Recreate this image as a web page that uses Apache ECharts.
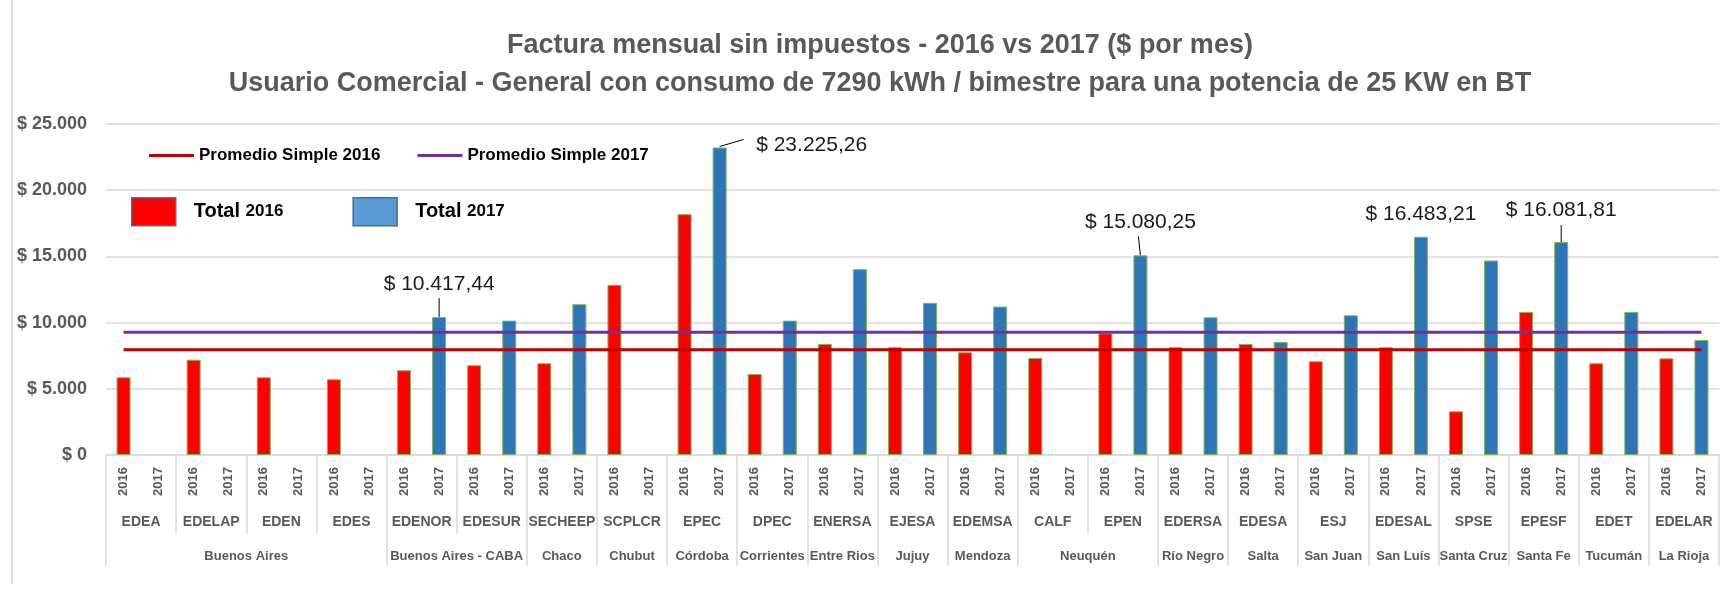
<!DOCTYPE html>
<html>
<head>
<meta charset="utf-8">
<script src="https://cdn.jsdelivr.net/npm/echarts@6/dist/echarts.min.js"></script>
<style>
  html, body { margin: 0; padding: 0; background: #fff; }
  #chart { width: 1720px; height: 589px; }
</style>
</head>
<body>
<div id="chart"></div>
<script>
// distribuidoras, en el orden del grafico
const companies = ['EDEA', 'EDELAP', 'EDEN', 'EDES', 'EDENOR', 'EDESUR', 'SECHEEP', 'SCPLCR', 'EPEC', 'DPEC', 'ENERSA', 'EJESA',
  'EDEMSA', 'CALF', 'EPEN', 'EDERSA', 'EDESA', 'ESJ', 'EDESAL', 'SPSE', 'EPESF', 'EDET', 'EDELAR']
const provinces = ['Buenos Aires', 'Buenos Aires - CABA', 'Chaco', 'Chubut', 'Córdoba', 'Corrientes', 'Entre Rios', 'Jujuy',
  'Mendoza', 'Neuquén', 'Río Negro', 'Salta', 'San Juan', 'San Luís', 'Santa Cruz', 'Santa Fe', 'Tucumán', 'La Rioja']
// cantidad de distribuidoras por provincia
const provinceCompanies = [4, 2, 1, 1, 1, 1, 1, 1, 1, 2, 1, 1, 1, 1, 1, 1, 1, 1]
const years = ['2016', '2017']

const total2016 = [5870, 7200, 5870, 5720, 6400, 6780, 6930, 12850, 18190, 6120, 8390, 8140,
  7760, 7330, 9190, 8140, 8390, 7080, 8140, 3300, 10810, 6930, 7300]
const total2017 = [null, null, null, null, 10417.44, 10150, 11390, null, 23225.26, 10150, 14030, 11490,
  11210, null, 15080.25, 10400, 8540, 10550, 16483.21, 14690, 16081.81, 10810, 8690]

const promedio2016 = 7950
const promedio2017 = 9280

const yTicks = [0, 5000, 10000, 15000, 20000, 25000]

// barras 2017 con etiqueta; line = linea guia (px desde el tope de la barra)
const callouts = {
  EDENOR: { distance: 22, line: [0, 0, 0, -19] },
  EPEC: { distance: 0, offset: [92, 8], line: [0, -1, 24, -8] },
  EPEN: { distance: 23, line: [0, 0, -2, -19] },
  EDESAL: { distance: 12 },
  EPESF: { distance: 21, line: [0, 0, 0, -17] }
}

const FONT = '"Liberation Sans", Arial, sans-serif'
const GRAY = '#595959'

const money = (v, dec) => {
  const [i, d] = v.toFixed(dec).split('.')
  return '$ ' + i.replace(/\B(?=(\d{3})+(?!\d))/g, '.') + (d ? ',' + d : '')
}

const cats = []
const bars2016 = []
const bars2017 = []
const leaders = []
companies.forEach((c, i) => {
  years.forEach(y => cats.push(c + '|' + y))
  bars2016.push(total2016[i], '-')
  const v = total2017[i]
  const co = callouts[c]
  if (v == null) {
    bars2017.push('-', '-')
  } else if (co) {
    bars2017.push('-', {
      value: v,
      label: {
        show: true,
        position: 'top',
        distance: co.distance,
        offset: co.offset || [0, 0],
        formatter: money(v, 2),
        fontSize: 21,
        color: '#1a1a1a',
        fontFamily: FONT
      }
    })
    if (co.line) leaders.push({ value: [2 * i + 1, v], line: co.line })
  } else {
    bars2017.push('-', v)
  }
})

const companyCenters = companies.map((c, i) => 2 * i + 1)
const provinceBounds = [0]
const provinceCenters = []
provinceCompanies.forEach(n => {
  const start = provinceBounds[provinceBounds.length - 1]
  provinceCenters.push(start + n)
  provinceBounds.push(start + 2 * n)
})

const chart = echarts.init(document.getElementById('chart'))
chart.setOption({
  animation: false,
  textStyle: { fontFamily: FONT },
  title: {
    text: 'Factura mensual sin impuestos - 2016 vs 2017 ($ por mes)\nUsuario Comercial - General con consumo de 7290 kWh / bimestre para una potencia de 25 KW en BT',
    left: 875,
    top: 22,
    textAlign: 'center',
    textStyle: { fontSize: 27, fontWeight: 'bold', color: GRAY, lineHeight: 38, fontFamily: FONT }
  },
  legend: [
    {
      data: ['Promedio Simple 2016', 'Promedio Simple 2017'],
      left: 144,
      top: 142,
      icon: 'rect',
      itemWidth: 45,
      itemHeight: 3,
      itemGap: 37,
      selectedMode: false,
      textStyle: { fontSize: 17, fontWeight: 'bold', color: '#000', fontFamily: FONT }
    },
    {
      data: [
        { name: 'Total 2016', itemStyle: { color: '#ff0000', borderColor: '#41719c', borderWidth: 1.5 } },
        { name: 'Total 2017', itemStyle: { color: '#5b9bd5', borderColor: '#41719c', borderWidth: 1.5 } }
      ],
      left: 126,
      top: 192,
      icon: 'rect',
      itemWidth: 44,
      itemHeight: 28,
      itemGap: 69,
      selectedMode: false,
      formatter: n => '{a|Total} {b|' + n.split(' ')[1] + '}',
      textStyle: {
        fontSize: 20, fontWeight: 'bold', color: '#000', fontFamily: FONT, padding: [0, 0, 0, 13],
        rich: {
          a: { fontSize: 20, fontWeight: 'bold', color: '#000', fontFamily: FONT },
          b: { fontSize: 17, fontWeight: 'bold', color: '#000', fontFamily: FONT }
        }
      }
    }
  ],
  grid: { left: 106, right: 1, top: 124, bottom: 134, outerBoundsMode: 'none' },
  xAxis: [
    {
      type: 'category',
      data: cats,
      position: 'bottom',
      axisLine: { lineStyle: { color: '#d9d9d9', width: 1.5 } },
      axisTick: { show: true, interval: i => i % 2 === 0, length: 78, lineStyle: { color: '#d9d9d9', width: 1.5 } },
      axisLabel: {
        interval: 0, rotate: 90, margin: 12, fontSize: 13, fontWeight: 'bold', color: GRAY,
        formatter: v => v.split('|')[1]
      },
      splitLine: { show: false }
    },
    {
      type: 'value',
      min: 0,
      max: cats.length,
      position: 'bottom',
      axisLine: { show: false },
      axisTick: { show: false },
      splitLine: { show: false },
      axisLabel: {
        customValues: companyCenters, margin: 60, fontSize: 14, fontWeight: 'bold', color: GRAY,
        formatter: v => companies[(v - 1) / 2]
      }
    },
    {
      type: 'value',
      min: 0,
      max: cats.length,
      position: 'bottom',
      axisLine: { show: false },
      axisTick: { show: true, customValues: provinceBounds, length: 110, lineStyle: { color: '#d9d9d9', width: 1.5 } },
      splitLine: { show: false },
      axisLabel: {
        customValues: provinceCenters, margin: 95, fontSize: 13, fontWeight: 'bold', color: GRAY,
        formatter: v => provinces[provinceCenters.indexOf(v)]
      }
    }
  ],
  yAxis: {
    type: 'value',
    min: yTicks[0],
    max: yTicks[yTicks.length - 1],
    interval: yTicks[1] - yTicks[0],
    axisLine: { show: false },
    axisTick: { show: false },
    splitLine: { lineStyle: { color: '#d9d9d9', width: 1.5 } },
    axisLabel: { margin: 19, fontSize: 18, fontWeight: 'bold', color: GRAY, formatter: v => money(v, 0) }
  },
  graphic: [
    { type: 'line', shape: { x1: 12, y1: 0, x2: 12, y2: 584 }, style: { stroke: '#bfbfbf', lineWidth: 1 } }
  ],
  series: [
    {
      name: 'Total 2016',
      type: 'bar',
      data: bars2016,
      barWidth: 14,
      barGap: '-100%',
      itemStyle: { color: '#ff0000', borderColor: '#7fb455', borderWidth: 1 }
    },
    {
      name: 'Total 2017',
      type: 'bar',
      data: bars2017,
      barWidth: 14,
      barGap: '-100%',
      itemStyle: { color: '#2e75b6', borderColor: '#7fb455', borderWidth: 1 }
    },
    {
      name: 'Promedio Simple 2016',
      type: 'line',
      data: cats.map(() => promedio2016),
      symbol: 'none',
      color: '#c00000',
      lineStyle: { color: '#c00000', width: 3 },
      z: 5
    },
    {
      name: 'Promedio Simple 2017',
      type: 'line',
      data: cats.map(() => promedio2017),
      symbol: 'none',
      color: '#7030a0',
      lineStyle: { color: '#7030a0', width: 3 },
      z: 5
    },
    {
      // lineas guia de las etiquetas
      type: 'custom',
      data: leaders,
      encode: { x: 0, y: 1 },
      z: 6,
      silent: true,
      renderItem: (params, api) => {
        const p = api.coord([api.value(0), api.value(1)])
        const l = leaders[params.dataIndex].line
        return {
          type: 'line',
          shape: { x1: p[0] + l[0], y1: p[1] + l[1], x2: p[0] + l[2], y2: p[1] + l[3] },
          style: { stroke: '#000', lineWidth: 1 }
        }
      }
    }
  ]
})
</script>
</body>
</html>
